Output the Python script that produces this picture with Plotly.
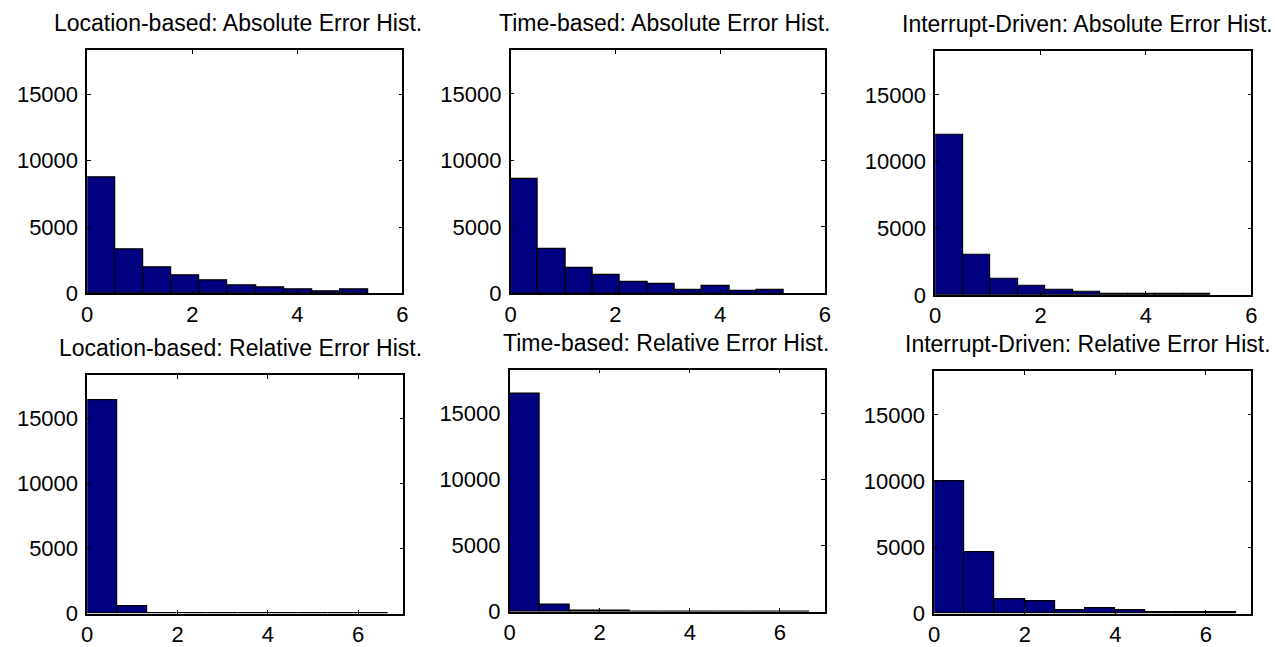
import plotly.graph_objects as go

# ---------------- data ----------------
titles = [
    "Location-based: Absolute Error Hist.",
    "Time-based: Absolute Error Hist.",
    "Interrupt-Driven: Absolute Error Hist.",
    "Location-based: Relative Error Hist.",
    "Time-based: Relative Error Hist.",
    "Interrupt-Driven: Relative Error Hist.",
]

abs_loc_centers = [0.2675, 0.8025, 1.3375, 1.8725, 2.4075, 2.9425, 3.4775, 4.0125, 4.5475, 5.0825]
abs_loc_counts = [8750, 3320, 1930, 1380, 950, 580, 430, 300, 170, 300]

abs_time_centers = [0.261, 0.783, 1.305, 1.827, 2.349, 2.871, 3.393, 3.915, 4.437, 4.959]
abs_time_counts = [8620, 3320, 1930, 1380, 830, 700, 300, 580, 170, 300]

abs_int_centers = [0.261, 0.783, 1.305, 1.827, 2.349, 2.871, 3.393, 3.915, 4.437, 4.959]
abs_int_counts = [12000, 3010, 1200, 660, 410, 250, 110, 100, 100, 90]

rel_loc_centers = [0.333, 1.000, 1.666, 2.333, 3.000, 3.666, 4.333, 4.999, 5.666, 6.332]
rel_loc_counts = [16400, 540, 60, 40, 30, 25, 20, 20, 15, 30]

rel_time_centers = [0.333, 1.000, 1.666, 2.333, 3.000, 3.666, 4.333, 4.999, 5.666, 6.332]
rel_time_counts = [16520, 560, 60, 40, 30, 25, 20, 20, 15, 30]

rel_int_centers = [0.333, 1.000, 1.666, 2.333, 3.000, 3.666, 4.333, 4.999, 5.666, 6.332]
rel_int_counts = [9960, 4640, 1090, 940, 230, 410, 280, 100, 100, 100]

bin_widths = [0.535, 0.522, 0.522, 0.6665, 0.6665, 0.6665]

x_ranges = [[0, 6], [0, 6], [0, 6], [0, 7], [0, 7], [0, 7]]
y_range = [0, 18300]
x_ticks = [0, 2, 4, 6]
y_ticks = [0, 5000, 10000, 15000]
y_tick_labels = ["0", "5000", "10000", "15000"]

centers = [abs_loc_centers, abs_time_centers, abs_int_centers,
           rel_loc_centers, rel_time_centers, rel_int_centers]
counts = [abs_loc_counts, abs_time_counts, abs_int_counts,
          rel_loc_counts, rel_time_counts, rel_int_counts]

# ---------------- layout geometry (page pixels) ----------------
W, H = 1275, 647

# (left, right, top, bottom) of each axes box in page pixels
boxes = [
    (82.0, 400.1, 51.5, 299.9),
    (509.5, 826.6, 51.0, 299.9),
    (938.0, 1257.1, 52.0, 301.4),
    (82.0, 401.1, 383.5, 627.2),
    (508.5, 826.6, 377.9, 625.2),
    (937.0, 1257.1, 379.4, 627.2),
]
# title (center x, caps-middle y) in page pixels
title_pos = [(234.2, 24.0), (664.8, 24.0), (1091.3, 24.5),
             (237.2, 355.5), (665.8, 350.3), (1092.3, 351.9)]

def fx(px):
    return px / W

def fy(py):
    return 1 - py / H

FONT = "Liberation Sans, Arial, Helvetica, sans-serif"
BAR_FILL = "#000080"

fig = go.Figure()
layout = dict(
    width=W, height=H,
    margin=dict(l=0, r=0, t=0, b=0),
    paper_bgcolor="white", plot_bgcolor="white",
    showlegend=False,
    font=dict(family=FONT, size=22, color="black"),
    bargap=0,
)

annotations = []
for i in range(6):
    n = i + 1
    xa = "x" if n == 1 else f"x{n}"
    ya = "y" if n == 1 else f"y{n}"
    fig.add_trace(go.Bar(
        x=centers[i], y=counts[i], width=bin_widths[i],
        marker=dict(color=BAR_FILL, line=dict(color="black", width=1.2)),
        xaxis=xa, yaxis=ya, hoverinfo="x+y",
    ))
    l, r, t, b = boxes[i]
    axis_common = dict(
        showline=True, linecolor="black", linewidth=1.5, mirror="ticks",
        ticks="inside", ticklen=4, tickwidth=1.2, tickcolor="black",
        showgrid=False, zeroline=False, fixedrange=True,
        tickfont=dict(family=FONT, size=22, color="black"),
    )
    layout["xaxis" if n == 1 else f"xaxis{n}"] = dict(
        domain=[fx(l), fx(r)], range=x_ranges[i], tickvals=x_ticks,
        anchor=ya, ticklabelstandoff=0, **axis_common,
    )
    layout["yaxis" if n == 1 else f"yaxis{n}"] = dict(
        domain=[fy(b), fy(t)], range=y_range, tickvals=y_ticks,
        ticktext=y_tick_labels,
        anchor=xa, ticklabelstandoff=3, **axis_common,
    )
    cx, cy = title_pos[i]
    annotations.append(dict(
        text=titles[i], x=fx(cx), y=fy(cy), xref="paper", yref="paper",
        xanchor="center", yanchor="middle", showarrow=False,
        font=dict(family=FONT, size=23, color="black"),
    ))

layout["annotations"] = annotations
fig.update_layout(**layout)
fig.write_html(
    "out.html",
    config={"displayModeBar": False},
    post_script="document.body.style.margin='0';document.body.style.overflow='hidden';",
)
